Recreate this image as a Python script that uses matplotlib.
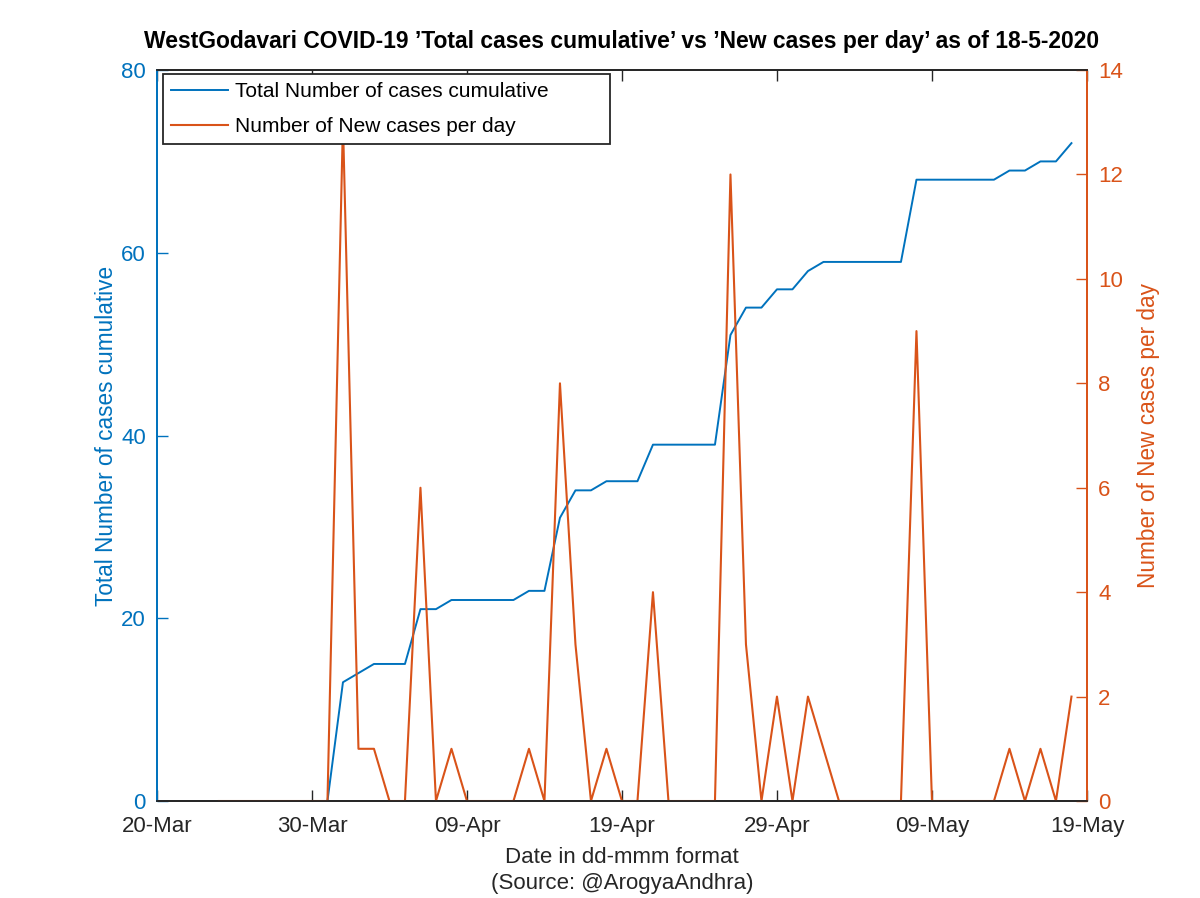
import numpy as np
import pandas as pd
import matplotlib
matplotlib.use("Agg")
import matplotlib.pyplot as plt
import matplotlib.dates as mdates

plt.rcParams['font.family'] = ['Liberation Sans', 'DejaVu Sans']

# DATA
dates = pd.date_range("2020-03-24", "2020-05-18", freq="D")

total_cases = [
    0, 0, 0, 0, 0, 0, 0, 0,                     # 24-Mar .. 31-Mar
    13, 14, 15, 15, 15, 21, 21, 22, 22, 22,     # 01-Apr .. 10-Apr
    22, 22, 23, 23, 31, 34, 34, 35, 35, 35,     # 11-Apr .. 20-Apr
    39, 39, 39, 39, 39, 51, 54, 54, 56, 56,     # 21-Apr .. 30-Apr
    58, 59, 59, 59, 59, 59, 59, 68, 68, 68,     # 01-May .. 10-May
    68, 68, 68, 69, 69, 70, 70, 72,             # 11-May .. 18-May
]

new_cases = [
    0, 0, 0, 0, 0, 0, 0, 0,
    13, 1, 1, 0, 0, 6, 0, 1, 0, 0,
    0, 0, 1, 0, 8, 3, 0, 1, 0, 0,
    4, 0, 0, 0, 0, 12, 3, 0, 2, 0,
    2, 1, 0, 0, 0, 0, 0, 9, 0, 0,
    0, 0, 0, 1, 0, 1, 0, 2,
]

xtick_dates = pd.date_range("2020-03-20", "2020-05-19", freq="10D")
left_ticks = [0, 20, 40, 60, 80]
right_ticks = [0, 2, 4, 6, 8, 10, 12, 14]

# COLOURS
blue = "#0072BD"
orange = "#D95319"
dark = "#262626"

fig = plt.figure(figsize=(12, 8.98), dpi=100)
ax = fig.add_axes([0.1308, 0.108, 0.775, 0.814])
ax2 = ax.twinx()

l1, = ax.plot(dates, total_cases, color=blue, lw=1.4,
              label="Total Number of cases cumulative")
l2, = ax2.plot(dates, new_cases, color=orange, lw=1.5,
               label="Number of New cases per day")

# x axis
ax.set_xlim(xtick_dates[0], xtick_dates[-1])
ax.set_xticks(xtick_dates)
ax.xaxis.set_major_formatter(mdates.DateFormatter("%d-%b"))
ax.set_xlabel("Date in dd-mmm format\n(Source: @ArogyaAndhra)",
              fontsize=16, color=dark, labelpad=7, linespacing=1.3)

# left axis
ax.set_ylim(0, 80)
ax.set_yticks(left_ticks)
ax.set_ylabel("Total Number of cases cumulative", fontsize=16.3, color=blue,
              labelpad=2)

# right axis
ax2.set_ylim(0, 14)
ax2.set_yticks(right_ticks)
ax2.set_ylabel("Number of New cases per day", fontsize=16.3, color=orange,
               labelpad=10)

ax.tick_params(axis="x", direction="in", top=True, length=8, width=1,
               labelsize=16, colors=dark, pad=11)
ax.tick_params(axis="y", direction="in", length=8, width=1,
               labelsize=16, colors=blue, pad=8)
ax2.tick_params(axis="y", direction="in", length=8, width=1,
                labelsize=16, colors=orange, pad=8)

for a in (ax, ax2):
    for s in a.spines.values():
        s.set_linewidth(1.3)
        s.set_color(dark)
ax.spines["left"].set_color(blue)
ax2.spines["left"].set_color(blue)
ax2.spines["right"].set_color(orange)
ax.spines["right"].set_color(orange)

leg = ax2.legend(handles=[l1, l2], loc="upper left", fontsize=15,
                 frameon=True, fancybox=False, mode="expand",
                 bbox_to_anchor=(0.0065, 0.0, 0.481, 0.9945),
                 borderaxespad=0.0, handlelength=2.7, handletextpad=0.35,
                 borderpad=0.4, labelspacing=0.74)
leg.get_frame().set_edgecolor(dark)
leg.get_frame().set_linewidth(1.3)
leg.get_frame().set_alpha(1)

ax.set_title("WestGodavari COVID-19 \u2019Total cases cumulative\u2019 vs "
             "\u2019New cases per day\u2019 as of 18-5-2020",
             fontsize=16.5, fontweight="bold", pad=16)

plt.savefig("out.png", dpi=100)
